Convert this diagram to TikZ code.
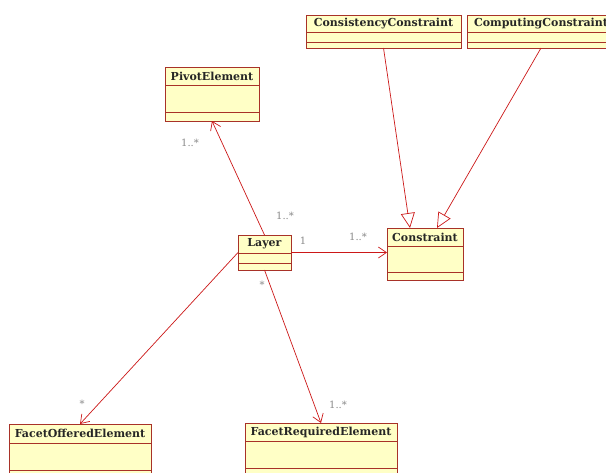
\documentclass[tikz,border=0pt]{standalone}
\usepackage{fontspec}
\setmainfont{DejaVu Serif}
\usetikzlibrary{arrows.meta,calc}
\definecolor{boxfill}{HTML}{FFFFC6}
\definecolor{boxline}{HTML}{A83228}
\definecolor{conn}{HTML}{CC1818}
\definecolor{mult}{HTML}{8A8A8A}
\tikzset{
 cls/.style={draw=boxline, fill=boxfill, line width=0.9pt, anchor=north west, inner sep=0pt, outer sep=0pt},
 ttl/.style={font=\bfseries\fontsize{11}{12}\selectfont, text=black!85, inner sep=0pt},
 sepline/.style={draw=boxline, line width=0.9pt},
 assoc/.style={draw=conn, line width=0.7pt, -{Straight Barb[length=8pt,width=11pt]}},
 gen/.style={draw=conn, line width=0.7pt, -{Triangle[open,length=15pt,width=14pt,fill=white]}},
 mul/.style={text=mult, font=\fontsize{10}{11}\selectfont, inner sep=0pt},
}
\newcommand\umlclass[8]{%
 \node[cls, minimum width={#4-#2}, minimum height={#5-#3}] (#1) at (#2,#3) {};
 \draw[sepline] (#2,#6) -- (#4,#6);
 \draw[sepline] (#2,#7) -- (#4,#7);
 \node[ttl] (#1-t) at ({(#2+#4)/2},{(#3+#6)/2}) {#8};
}
\begin{document}
\begin{tikzpicture}[x=1pt,y=-1pt]
\useasboundingbox[fill=white] (0,0) rectangle (606,472);
\umlclass{consist}{306}{15}{461}{48}{32}{42}{ConsistencyConstraint}
\umlclass{comput}{467}{15}{615}{48}{32}{42}{ComputingConstraint}
\umlclass{pivot}{165}{67}{259}{121}{85}{112}{PivotElement}
\umlclass{layer}{238}{235}{291}{270}{253}{263}{Layer}
\umlclass{constraint}{387}{228}{463}{280}{246}{272}{Constraint}
\umlclass{foffer}{9}{424}{151}{480}{443}{470}{FacetOfferedElement}
\umlclass{freq}{245}{423}{397}{480}{441}{468}{FacetRequiredElement}
\draw[assoc] (layer.north) -- (pivot.south);
\draw[assoc] (layer.east) -- (layer.east -| constraint.west);
\draw[assoc] (layer.west) -- (foffer.north);
\draw[assoc] (layer.south) -- (freq.north);
\draw[gen] (consist.south) -- ([xshift=-15pt]constraint.north);
\draw[gen] (comput.south) -- ([xshift=12pt]constraint.north);
\node[mul] (m1) at (190,143) {1..*};
\node[mul] (m2) at (285,216) {1..*};
\node[mul] (m3) at (303,241) {1};
\node[mul] (m4) at (358,237) {1..*};
\node[mul] (m5) at (82,404) {*};
\node[mul] (m6) at (262,285) {*};
\node[mul] (m7) at (338,405) {1..*};
\end{tikzpicture}
\end{document}
